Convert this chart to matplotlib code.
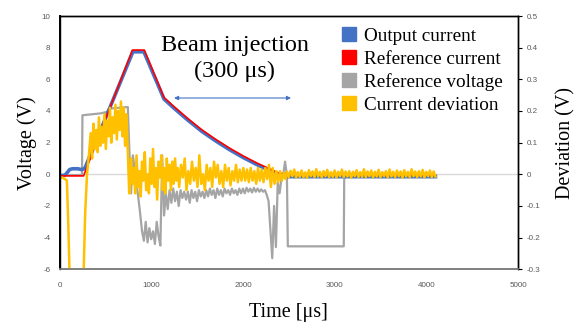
import numpy as np
import matplotlib.pyplot as plt
from matplotlib.patches import Patch

# ---- data (time in us) ----
# output current (primary axis, V)
out_t = [0, 60, 90, 110, 140, 200, 240, 270, 285, 800, 920, 1140, 1250, 1400,
         1550, 1700, 1850, 2000, 2150, 2300, 2380, 2450, 4100]
out_v = [-0.1, -0.05, 0.15, 0.3, 0.35, 0.35, 0.3, 0.35, 0.5, 7.74, 7.74, 4.75,
         4.17, 3.42, 2.72, 2.12, 1.57, 1.07, 0.62, 0.22, 0.0, -0.15, -0.15]

# reference current (primary axis, V)
ref_t = [0, 262, 795, 925, 1140, 1250, 1400, 1550, 1700, 1850, 2000, 2150,
         2300, 2400, 4100]
ref_v = [-0.1, -0.1, 7.85, 7.85, 4.85, 4.27, 3.52, 2.82, 2.22, 1.67, 1.17,
         0.72, 0.32, 0.05, -0.05]

# reference voltage (primary axis, V)
vref_t_start = [0, 245, 250, 450, 520, 540, 745, 762]
vref_v_start = [-0.05, -0.05, 3.73, 3.85, 3.95, 4.15, 4.25, 1.5]
vref_t_noisy = np.arange(780, 2481, 20)
vref_v_noisy = [-1.2, 1.2, 0.3, -0.6, -1.5, -2.5, -3.6, -4.2, -3.0, -4.3,
                -3.4, -4.1, -3.6, -4.4, -3.0, -3.9, -4.5, 1.2, -2.6, -1.2,
                -2.2, -1.0, -1.8, -0.9, -1.7, -1.1, -2.0, -1.0, -1.5, -1.1,
                -1.6, -1.1, -1.8, -1.0, -1.5, -1.1, -1.7, -1.0, -1.4, -1.1,
                -1.5, -1.0, -1.4, -0.9, -1.3, -1.0, -1.5, -0.9, -1.3, -1.0,
                -1.4, -0.9, -1.2, -1.0, -1.3, -0.9, -1.2, -1.0, -1.3, -0.9,
                -1.2, -0.9, -1.2, -0.85, -1.1, -0.9, -1.15, -0.85, -1.1, -0.9,
                -1.1, -0.95, -1.1, -1.0, -1.3, -1.7, -3.5, -5.3, -2.0, -4.6,
                -0.5, -1.2, -0.3, 0.0, 0.8, -0.1]
vref_t_end = [2490, 3100, 3105, 4100]
vref_v_end = [-4.55, -4.55, -0.15, -0.15]

# current deviation (secondary axis, V)
dev_t_start = [0, 30, 60, 80, 95, 110, 130, 240, 262, 280, 300, 320]
dev_v_start = [-0.012, -0.01, -0.015, -0.02, -0.15, -0.32, -0.5, -0.5, -0.32,
               -0.12, 0.0, 0.06]
dev_t_rise = np.arange(340, 750, 15)
dev_v_rise = [0.13, 0.05, 0.16, 0.08, 0.14, 0.07, 0.18, 0.09, 0.15, 0.10,
              0.19, 0.08, 0.17, 0.12, 0.21, 0.10, 0.18, 0.13, 0.22, 0.11,
              0.20, 0.14, 0.23, 0.12, 0.21, 0.09, 0.19, 0.07]
dev_t_peak = np.arange(765, 1300, 15)
dev_v_peak = [-0.06, 0.05, -0.03, 0.02, -0.06, 0.06, -0.04, 0.01, -0.07, 0.04,
              -0.02, 0.07, -0.05, 0.00, -0.06, 0.05, -0.03, 0.08, -0.04, 0.02,
              -0.08, 0.04, -0.01, 0.06, -0.05, 0.02, -0.06, 0.05, -0.02, 0.03,
              -0.05, 0.04, -0.03, 0.05, -0.02, 0.02]
dev_t_decay = np.arange(1305, 2000, 20)
dev_v_decay = [-0.04, 0.03, -0.01, 0.05, -0.05, 0.01, -0.03, 0.04, -0.02, 0.02,
               -0.04, 0.06, -0.03, 0.00, -0.05, 0.03, -0.02, 0.02, -0.04, 0.04,
               -0.01, 0.03, -0.03, 0.01, -0.04, 0.03, -0.02, 0.02, -0.035, 0.01,
               -0.02, 0.03, -0.025, 0.015, -0.02]
dev_t_end = np.arange(2005, 2466, 20)
dev_v_end = [0.02, -0.02, 0.015, -0.025, 0.02, -0.02, 0.01, -0.03, 0.02, -0.02,
             0.015, -0.025, 0.02, -0.015, 0.03, -0.04, 0.02, -0.03, 0.01, -0.025,
             0.01, -0.02, 0.005, -0.015]
dev_t_tail = np.arange(2480, 4101, 20)
dev_v_tail = [0.008, -0.009, 0.011, -0.006, 0.015, -0.010, 0.007, -0.008, 0.012, -0.009,
              0.006, -0.011, 0.013, -0.006, 0.009, -0.009, 0.016, -0.007, 0.008, -0.010,
              0.010, -0.006, 0.014, -0.009, 0.007, -0.008, 0.012, -0.010, 0.008, -0.006,
              0.015, -0.009, 0.009, -0.007, 0.010, -0.011, 0.008, -0.006, 0.013, -0.009,
              0.007, -0.008, 0.016, -0.009, 0.009, -0.006, 0.012, -0.010, 0.008, -0.007,
              0.014, -0.009, 0.007, -0.006, 0.010, -0.010, 0.015, -0.007, 0.008, -0.009,
              0.012, -0.006, 0.009, -0.011, 0.013, -0.007, 0.008, -0.009, 0.016, -0.006,
              0.009, -0.009, 0.010, -0.007, 0.014, -0.010, 0.008, -0.006, 0.012, -0.009,
              0.009, -0.007]

x_ticks = [0, 1000, 2000, 3000, 4000, 5000]
v_ticks = [10, 8, 6, 4, 2, 0, -2, -4, -6]
d_ticks = [0.5, 0.4, 0.3, 0.2, 0.1, 0, -0.1, -0.2, -0.3]
d_tick_labels = ['0.5', '0.4', '0.3', '0.2', '0.1', '0', '-0.1', '-0.2', '-0.3']

legend_labels = ['Output current', 'Reference current', 'Reference voltage',
                 'Current deviation']

C_BLUE = '#4472C4'
C_RED = '#FF0000'
C_GRAY = '#A5A5A5'
C_YELLOW = '#FFC000'
SERIF = 'Liberation Serif'
TICK_FONT = dict(family='Liberation Sans', size=5.8)


def main():
    vref_t = np.concatenate([vref_t_start, vref_t_noisy, vref_t_end])
    vref_v = np.concatenate([vref_v_start, vref_v_noisy, vref_v_end])
    dev_t = np.concatenate([dev_t_start, dev_t_rise, [760], dev_t_peak,
                            dev_t_decay, dev_t_end, dev_t_tail])
    dev_v = np.concatenate([dev_v_start, dev_v_rise, [-0.06], dev_v_peak,
                            dev_v_decay, dev_v_end, dev_v_tail])

    fig = plt.figure(figsize=(5.79, 3.22), dpi=100)
    ax = fig.add_axes([0.1028, 0.1637, 0.7918, 0.7866])

    # excel draws the horizontal axis line at 0
    ax.axhline(0, color='#D9D9D9', lw=1.0, zorder=1)
    ax.plot(vref_t, vref_v, color=C_GRAY, lw=1.6, zorder=2)
    ax.plot(out_t, out_v, color=C_BLUE, lw=2.6, zorder=3)
    ax.plot(ref_t, ref_v, color=C_RED, lw=1.2, zorder=4)

    ax.set_xlim(0, 5000)
    ax.set_ylim(-6, 10)
    ax.set_xticks(x_ticks)
    ax.set_xticklabels([str(v) for v in x_ticks], **TICK_FONT, color='#595959')
    ax.set_yticks(v_ticks)
    ax.set_yticklabels([str(v) for v in v_ticks], **TICK_FONT, color='#595959')
    ax.tick_params(axis='both', length=0)
    ax.tick_params(axis='x', pad=9)
    ax.tick_params(axis='y', pad=6.5)

    ax2 = ax.twinx()
    ax2.plot(dev_t, dev_v, color=C_YELLOW, lw=1.8)
    ax2.set_ylim(-0.3, 0.5)
    ax2.set_yticks(d_ticks)
    ax2.set_yticklabels(d_tick_labels, **TICK_FONT, color='#595959')
    ax2.tick_params(axis='y', length=3, width=0.8, pad=3.5, color='#000000')

    for a in (ax, ax2):
        for side in ('left', 'right', 'top'):
            a.spines[side].set_color('#000000')
            a.spines[side].set_linewidth(1.0)
        a.spines['bottom'].set_color('#7F7F7F')
        a.spines['bottom'].set_linewidth(1.2)
    ax.spines['left'].set_linewidth(1.4)

    ax.set_xlabel('Time [\u03bcs]', family=SERIF, fontsize=14.5, labelpad=10)
    ax.set_ylabel('Voltage (V)', family=SERIF, fontsize=14.5, labelpad=3)
    ax2.set_ylabel('Deviation (V)', family=SERIF, fontsize=14.5, labelpad=11)

    # beam injection window
    ax.annotate('', xy=(1249, 4.82), xytext=(2525, 4.82),
                arrowprops=dict(arrowstyle='<|-|>', color=C_BLUE, lw=0.8,
                                mutation_scale=6, shrinkA=0, shrinkB=0))
    ax.text(1913, 7.3, 'Beam injection\n(300 \u03bcs)', family=SERIF,
            fontsize=17.5, ha='center', va='center', linespacing=1.3)

    handles = [Patch(color=c) for c in (C_BLUE, C_RED, C_GRAY, C_YELLOW)]
    fig.legend(handles, legend_labels, loc='upper left',
               bbox_to_anchor=(342 / 579, 1 - 27 / 322), frameon=False,
               prop=dict(family=SERIF, size=13.8), handlelength=0.75,
               handleheight=0.75, handletextpad=0.38, labelspacing=0.28,
               borderpad=0, borderaxespad=0)

    fig.savefig('out.png', dpi=100)


if __name__ == '__main__':
    main()
